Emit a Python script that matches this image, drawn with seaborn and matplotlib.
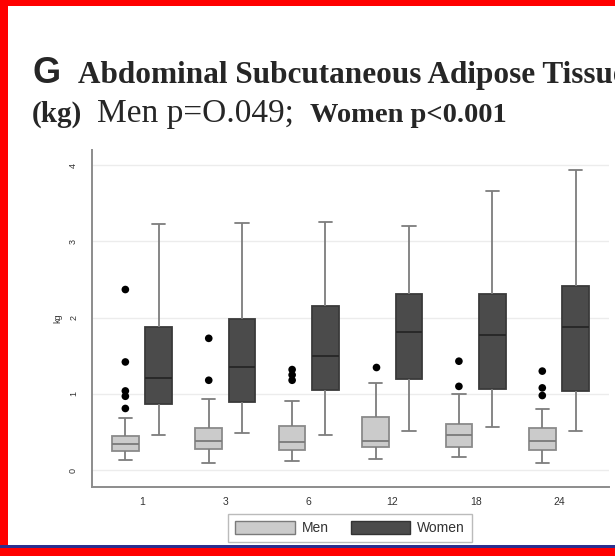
import matplotlib
matplotlib.use("Agg")
import matplotlib.pyplot as plt
import matplotlib.patches as mpatches
import seaborn as sns
import pandas as pd

# ---- data ----
times = ["1", "3", "6", "12", "18", "24"]
sexes = ["Men", "Women"]

men_low = [0.13, 0.09, 0.12, 0.15, 0.17, 0.10]
men_q1 = [0.25, 0.28, 0.26, 0.31, 0.31, 0.26]
men_med = [0.34, 0.38, 0.37, 0.38, 0.46, 0.38]
men_q3 = [0.45, 0.55, 0.58, 0.70, 0.61, 0.55]
men_high = [0.69, 0.93, 0.91, 1.14, 1.00, 0.80]

women_low = [0.46, 0.49, 0.46, 0.52, 0.57, 0.51]
women_q1 = [0.87, 0.89, 1.05, 1.20, 1.07, 1.04]
women_med = [1.21, 1.36, 1.50, 1.81, 1.78, 1.88]
women_q3 = [1.88, 1.99, 2.15, 2.31, 2.31, 2.41]
women_high = [3.23, 3.24, 3.26, 3.20, 3.66, 3.94]

men_outliers = [[2.37, 1.42, 1.04, 0.97, 0.81], [1.73, 1.18], [1.32, 1.25, 1.18],
                [1.35], [1.43, 1.10], [1.30, 1.08, 0.98]]

y_ticks = [0, 1, 2, 3, 4]
y_ticklabels = ["0", "1", "2", "3", "4"]

# ---- long tables ----
rows = []
for i, t in enumerate(times):
    for v in (men_low[i], men_q1[i], men_med[i], men_q3[i], men_high[i]):
        rows.append((t, "Men", v))
    for v in (women_low[i], women_q1[i], women_med[i], women_q3[i], women_high[i]):
        rows.append((t, "Women", v))
box_df = pd.DataFrame(rows, columns=["time", "sex", "kg"])

out_rows = []
for i, t in enumerate(times):
    for v in men_outliers[i]:
        out_rows.append((t, "Men", v))
out_df = pd.DataFrame(out_rows, columns=["time", "sex", "kg"])

# ---- figure ----
sns.set_style("white")
plt.rcParams["font.family"] = ["Liberation Sans", "DejaVu Sans"]

fig = plt.figure(figsize=(6.15, 5.56), dpi=100)
ax = fig.add_axes([92 / 615, 1 - 487 / 556, (609 - 92) / 615, (487 - 150) / 556])

pal = {"Men": "#cbcbcb", "Women": "#4b4b4b"}
sns.boxplot(data=box_df, x="time", y="kg", hue="sex", order=times, hue_order=sexes,
            palette=pal, whis=(0, 100), showfliers=False, width=0.8, gap=0.2,
            linecolor="#7d7d7d", linewidth=1.3, saturation=1, legend=False, ax=ax)

# colour tweaks per group
for cont, edge, med in zip(ax.containers, ["#8a8a8a", "#3a3a3a"], ["#7a7a7a", "#262626"]):
    for b in cont.boxes:
        b.set_edgecolor(edge)
    for m in cont.medians:
        m.set_color(med)

sns.stripplot(data=out_df, x="time", y="kg", hue="sex", order=times, hue_order=sexes,
              palette={"Men": "black", "Women": "black"}, dodge=True, jitter=False,
              size=5.5, linewidth=0, legend=False, ax=ax)

ax.set_xlim(-0.6, 5.6)
ax.set_ylim(-0.22, 4.2)
ax.set_yticks(y_ticks)
ax.set_yticklabels(y_ticklabels, rotation=90, va="center", fontsize=6.5, color="#333333")
ax.tick_params(axis="x", labelsize=7.5, colors="#333333", length=3, width=0.8, pad=4)
ax.tick_params(axis="y", length=4, width=0.8, color="#777777", pad=6)
ax.set_xlabel("")
ax.set_ylabel("kg", fontsize=6.5, color="#333333", labelpad=5)
ax.yaxis.grid(True, color="#ececec", linewidth=1.0)
ax.set_axisbelow(True)
for s in ["top", "right"]:
    ax.spines[s].set_visible(False)
for s in ["left", "bottom"]:
    ax.spines[s].set_color("#8c8c8c")
    ax.spines[s].set_linewidth(1.4)

# ---- legend ----
handles = [mpatches.Patch(facecolor=pal["Men"], edgecolor="#7a7a7a", label="Men"),
           mpatches.Patch(facecolor=pal["Women"], edgecolor="#333333", label="Women")]
leg = fig.legend(handles=handles, loc="center", bbox_to_anchor=(350 / 615, 1 - 528 / 556),
                 ncol=2, fontsize=10, frameon=True, fancybox=False, edgecolor="#aaaaaa",
                 handlelength=4.3, handleheight=1.15, columnspacing=1.6, handletextpad=0.5,
                 borderpad=0.5, borderaxespad=0)
leg.get_frame().set_linewidth(1.0)
for t in leg.get_texts():
    t.set_color("#333333")

# ---- titles ----
fig.text(32 / 615, 1 - 83 / 556, "G", fontsize=26, fontweight="bold",
         family=["Liberation Sans"], va="baseline", ha="left")
fig.text(78 / 615, 1 - 83 / 556, "Abdominal Subcutaneous Adipose Tissue", fontsize=22.5,
         fontweight="bold", family=["Liberation Serif"], va="baseline", ha="left")
fig.text(32 / 615, 1 - 122 / 556, "(kg)", fontsize=21, fontweight="bold",
         family=["Liberation Serif"], va="baseline", ha="left")
fig.text(97 / 615, 1 - 122 / 556, "Men p=O.049;", fontsize=24,
         family=["Liberation Serif"], va="baseline", ha="left")
fig.text(310 / 615, 1 - 122 / 556, "Women p<0.001", fontsize=20.5, fontweight="bold",
         family=["Liberation Serif"], va="baseline", ha="left")

# ---- screenshot frame ----
fig.patches.append(mpatches.Rectangle((0, 0), 8 / 615, 1, transform=fig.transFigure,
                                      facecolor="#ff0000", edgecolor="none", zorder=10))
fig.patches.append(mpatches.Rectangle((0, 1 - 6 / 556), 1, 6 / 556, transform=fig.transFigure,
                                      facecolor="#ff0000", edgecolor="none", zorder=10))
fig.patches.append(mpatches.Rectangle((0, 0), 1, 8 / 556, transform=fig.transFigure,
                                      facecolor="#ff0000", edgecolor="none", zorder=10))
fig.patches.append(mpatches.Rectangle((0, 8 / 556), 1, 3 / 556, transform=fig.transFigure,
                                      facecolor="#2b2f8f", edgecolor="none", zorder=10))

fig.savefig("out.png", dpi=100)
